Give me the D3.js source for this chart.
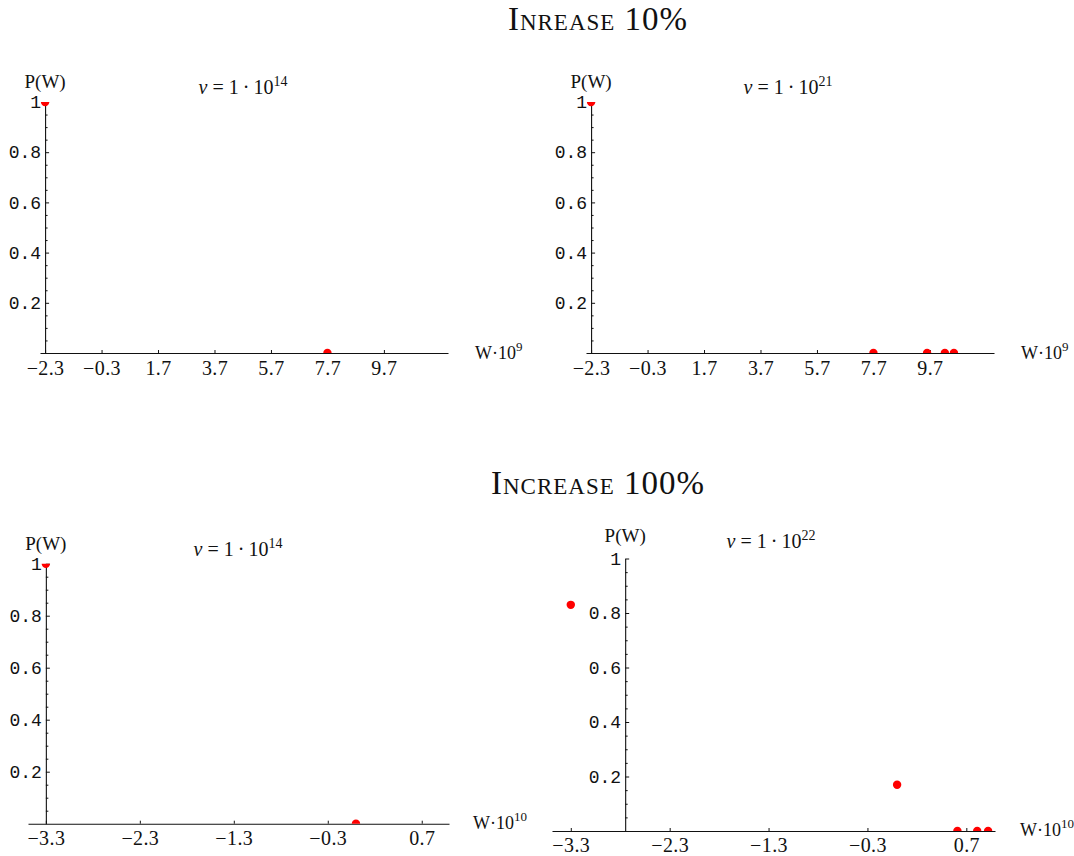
<!DOCTYPE html>
<html>
<head>
<meta charset="utf-8">
<script src="https://cdn.jsdelivr.net/npm/d3@7"></script>
<style>
  html, body { margin: 0; padding: 0; background: #fff; }
  svg { display: block; }
  .tick-y text { font-family: "Liberation Mono", monospace; font-size: 18px; fill: #111; }
  .tick-x text { font-family: "Liberation Serif", serif; font-size: 20px; fill: #111; letter-spacing: 0.4px; }
  .lbl { font-family: "Liberation Serif", serif; fill: #111; }
  .title { font-family: "Liberation Serif", serif; font-variant: small-caps; fill: #111; letter-spacing: 1px; }
</style>
</head>
<body>
<svg id="chart" width="1074" height="856"></svg>
<script>
// Tick values
const xTicksTop = [-2.3, -0.3, 1.7, 3.7, 5.7, 7.7, 9.7];
const xTicksBottom = [-3.3, -2.3, -1.3, -0.3, 0.7];
const yTicks = [0.2, 0.4, 0.6, 0.8, 1];
const yMinorTicks = d3.range(0.05, 1.0001, 0.05).map(v => +v.toFixed(2));

// Distributions P(W): increase 10 %
const w10_v14 = [-2.3, 7.7];
const p10_v14 = [1, 0];
const w10_v21 = [-2.3, 7.7, 9.6, 10.23, 10.55];
const p10_v21 = [1, 0, 0, 0, 0];

// Distributions P(W): increase 100 %
const w100_v14 = [-3.3, 0.0];
const p100_v14 = [1, 0];
const w100_v22 = [-3.3, 0.0, 0.61, 0.81, 0.92];
const p100_v22 = [0.83, 0.17, 0, 0, 0];

// Headings and panel captions
const titles = ["Inrease 10%", "Increase 100%"];
const vExponents = ["14", "21", "14", "22"];
const wExponents = ["9", "9", "10", "10"];

const svg = d3.select("#chart");

// Panel layout (pixels) and axis ranges
const panels = [
  { w: w10_v14, p: p10_v14, ticks: xTicksTop, dom: [-2.48, 11.97], xr: [40, 448], yr: [353, 102], yAxisAt: -2.3,
    vExp: vExponents[0], wExp: wExponents[0], vPos: [243, 94], pPos: 88, wPos: [475, 359], tickBase: 375 },
  { w: w10_v21, p: p10_v21, ticks: xTicksTop, dom: [-2.48, 11.97], xr: [586, 994], yr: [353, 102], yAxisAt: -2.3,
    vExp: vExponents[1], wExp: wExponents[1], vPos: [788, 94], pPos: 88, wPos: [1021, 359], tickBase: 375 },
  { w: w100_v14, p: p100_v14, ticks: xTicksBottom, dom: [-3.49, 0.99], xr: [28, 449], yr: [823.7, 563.7], yAxisAt: -3.3,
    vExp: vExponents[2], wExp: wExponents[2], vPos: [238, 556], pPos: 550, wPos: [473, 829], tickBase: 845 },
  { w: w100_v22, p: p100_v22, ticks: xTicksBottom, dom: [-3.49, 0.99], xr: [552, 995], yr: [831, 558.5], yAxisAt: -2.75,
    vExp: vExponents[3], wExp: wExponents[3], vPos: [771, 548], pPos: 542, wPos: [1020, 836], tickBase: 852 }
];

const fmtX = d => (d < 0 ? "\u2212" : "") + Math.abs(d).toFixed(1);
const fmtY = d => d === 1 ? "1" : d.toFixed(1);

panels.forEach((cfg, i) => {
  const g = svg.append("g");
  const x = d3.scaleLinear().domain(cfg.dom).range(cfg.xr);
  const y = d3.scaleLinear().domain([0, 1]).range(cfg.yr);
  const ax = x(cfg.yAxisAt);

  // x axis: ticks point up, labels below
  const xa = g.append("g").attr("class", "tick-x")
    .attr("transform", `translate(0,${y(0)})`)
    .call(d3.axisBottom(x).tickValues(cfg.ticks).tickFormat(fmtX)
      .tickSizeInner(-3).tickSizeOuter(0).tickPadding(cfg.tickBase - y(0) - 14));
  xa.select(".domain").attr("stroke", "#111").attr("stroke-width", 1.1);
  xa.selectAll(".tick line").attr("stroke", "#111");
  xa.selectAll("text").attr("fill", "#111");

  // y axis: major and minor ticks point into the plot
  const ya = g.append("g").attr("class", "tick-y")
    .attr("transform", `translate(${ax},0)`)
    .call(d3.axisLeft(y).tickValues(yTicks).tickFormat(fmtY)
      .tickSizeInner(-4).tickSizeOuter(0).tickPadding(4));
  ya.select(".domain").attr("stroke", "#111").attr("stroke-width", 1.1);
  ya.selectAll(".tick line").attr("stroke", "#111");
  ya.selectAll("text").attr("fill", "#111");

  const ym = g.append("g")
    .attr("transform", `translate(${ax},0)`)
    .call(d3.axisLeft(y).tickValues(yMinorTicks.filter(v => !yTicks.some(t => Math.abs(t - v) < 1e-6)))
      .tickFormat("").tickSizeInner(-2.5).tickSizeOuter(0));
  ym.select(".domain").remove();
  ym.selectAll(".tick line").attr("stroke", "#111");

  // points, clipped to the plotting region
  const clipId = "clip" + i;
  g.append("clipPath").attr("id", clipId).append("rect")
    .attr("x", cfg.xr[0]).attr("y", y(1))
    .attr("width", cfg.xr[1] - cfg.xr[0]).attr("height", y(0) - y(1));
  g.append("g").attr("clip-path", `url(#${clipId})`)
    .selectAll("circle").data(cfg.w.map((w, k) => ({ w, p: cfg.p[k] })))
    .join("circle")
    .attr("cx", d => x(d.w)).attr("cy", d => y(d.p)).attr("r", 4.2)
    .attr("fill", "#ff0000");

  // axis labels
  g.append("text").attr("class", "lbl").attr("x", ax).attr("y", cfg.pPos)
    .attr("text-anchor", "middle").style("font-size", "19px").text("P(W)");

  const wl = g.append("text").attr("class", "lbl").attr("x", cfg.wPos[0]).attr("y", cfg.wPos[1])
    .style("font-size", "18px");
  wl.append("tspan").text("W\u00b710");
  wl.append("tspan").attr("dy", -8).style("font-size", "13px").text(cfg.wExp);

  // parameter caption
  const vl = g.append("text").attr("class", "lbl").attr("x", cfg.vPos[0]).attr("y", cfg.vPos[1])
    .attr("text-anchor", "middle").style("font-size", "20px");
  vl.append("tspan").style("font-style", "italic").text("v");
  vl.append("tspan").attr("dx", 5).text("=");
  vl.append("tspan").attr("dx", 5).text("1");
  vl.append("tspan").attr("dx", 4).text("\u00b7");
  vl.append("tspan").attr("dx", 4).text("10");
  vl.append("tspan").attr("dy", -8).style("font-size", "14px").text(cfg.vExp);
});

// section headings
svg.append("text").attr("class", "title").attr("x", 598).attr("y", 30)
  .attr("text-anchor", "middle").style("font-size", "33px").text(titles[0]);
svg.append("text").attr("class", "title").attr("x", 598).attr("y", 494)
  .attr("text-anchor", "middle").style("font-size", "33px").text(titles[1]);
</script>
</body>
</html>
